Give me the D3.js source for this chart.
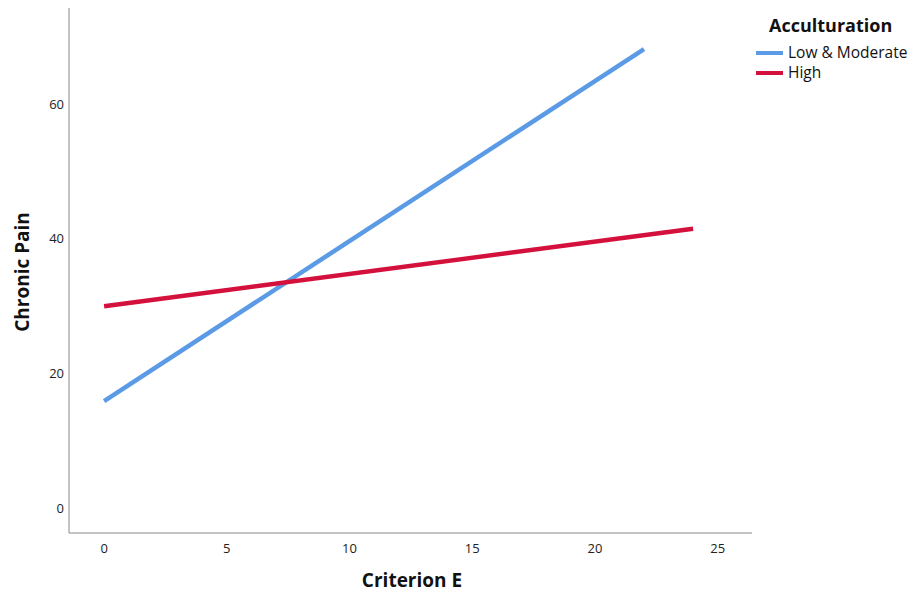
<!DOCTYPE html>
<html><head><meta charset="utf-8">
<script src="https://cdn.jsdelivr.net/npm/d3@7"></script>
<style>body{margin:0;background:#fff;} text{font-family:"Open Sans","DejaVu Sans",sans-serif;}</style>
</head><body>
<svg id="c" width="913" height="596"></svg>
<script>
const series = ["Low & Moderate", "High"];
const xStart = [0, 0];
const xEnd = [22, 24];
const yStart = [15.9, 30.0];
const yEnd = [68.2, 41.5];
const colors = ["#5b9be6", "#d4103c"];
const xTicks = [0, 5, 10, 15, 20, 25];
const yTicks = [0, 20, 40, 60];

const svg = d3.select("#c");
const x = d3.scaleLinear().domain([-1.43, 26.4]).range([69, 752]);
const y = d3.scaleLinear().domain([-3.7, 74.3]).range([533, 8]);

svg.append("line").attr("x1",69).attr("x2",69).attr("y1",8).attr("y2",533).attr("stroke","#888").attr("stroke-width",1);
svg.append("line").attr("x1",69).attr("x2",752).attr("y1",533).attr("y2",533).attr("stroke","#888").attr("stroke-width",1);

svg.selectAll(".yt").data(yTicks).enter().append("text")
  .attr("x",64).attr("y",d=>y(d)+4.5).attr("text-anchor","end")
  .attr("font-size",13).attr("fill","#222").text(d=>d);
svg.selectAll(".xt").data(xTicks).enter().append("text")
  .attr("x",d=>x(d)).attr("y",553).attr("text-anchor","middle")
  .attr("font-size",13).attr("fill","#222").text(d=>d);

svg.append("text").attr("x",412).attr("y",587).attr("text-anchor","middle")
  .attr("font-size",19).attr("font-weight","bold").attr("fill","#111").text("Criterion E");
svg.append("text").attr("transform","translate(29,272) rotate(-90)").attr("text-anchor","middle")
  .attr("font-size",19).attr("font-weight","bold").attr("fill","#111").text("Chronic Pain");

series.forEach((s,i)=>{
  svg.append("line").attr("x1",x(xStart[i])).attr("y1",y(yStart[i]))
    .attr("x2",x(xEnd[i])).attr("y2",y(yEnd[i]))
    .attr("stroke",colors[i]).attr("stroke-width",4.5);
});

svg.append("text").attr("x",769).attr("y",32).attr("font-size",18).attr("font-weight","bold").attr("fill","#111").text("Acculturation");
series.forEach((s,i)=>{
  const ly = 53 + i*20;
  svg.append("line").attr("x1",756).attr("x2",783).attr("y1",ly).attr("y2",ly).attr("stroke",colors[i]).attr("stroke-width",4);
  svg.append("text").attr("x",788).attr("y",ly+5).attr("font-size",15.5).attr("fill","#111").text(s);
});
</script>
</body></html>
